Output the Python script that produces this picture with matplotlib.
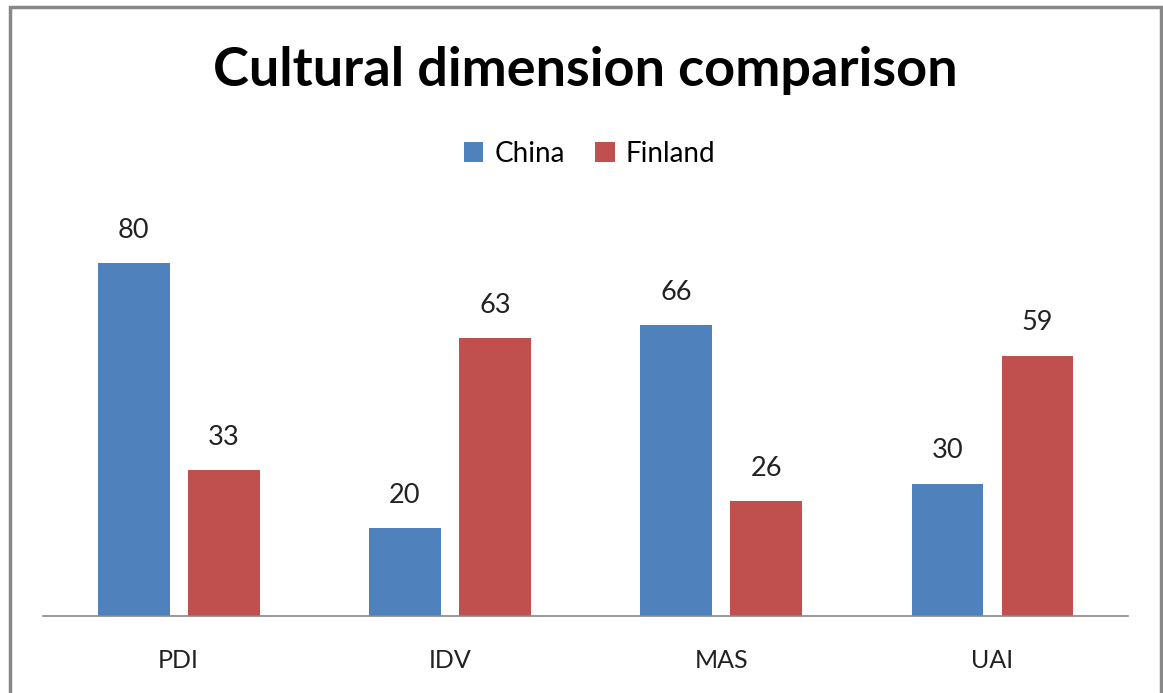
import numpy as np
import matplotlib
matplotlib.use('Agg')
import matplotlib.pyplot as plt
from matplotlib.patches import Rectangle

categories = ['PDI', 'IDV', 'MAS', 'UAI']
china = [80, 20, 66, 30]
finland = [33, 63, 26, 59]

BLUE = '#4f81bd'
RED = '#c0504d'
FONT = ['Lato', 'DejaVu Sans']

fig = plt.figure(figsize=(11.63, 6.93), dpi=100)
ax = fig.add_axes([0.037, 0.111, 0.933, 0.573])

x = np.arange(len(categories))
w = 0.265
off = 0.166
b1 = ax.bar(x - off, china, w, color=BLUE, label='China')
b2 = ax.bar(x + off, finland, w, color=RED, label='Finland')

for bars, vals in ((b1, china), (b2, finland)):
    for rect, v in zip(bars, vals):
        ax.text(rect.get_x() + rect.get_width() / 2, v + 4.6, str(v),
                ha='center', va='bottom', fontsize=19.5, family=FONT,
                color='#222222')

ax.set_xlim(-0.5, len(categories) - 0.5)
ax.set_ylim(0, 90)
ax.set_xticks(x)
ax.set_xticklabels(categories, fontsize=18, family=FONT, color='#222222')
ax.tick_params(axis='x', length=0, pad=24)
ax.set_yticks([])
for s in ('top', 'right', 'left'):
    ax.spines[s].set_visible(False)
ax.spines['bottom'].set_color('#888888')
ax.spines['bottom'].set_linewidth(1.2)

fig.text(0.503, 0.898, 'Cultural dimension comparison', ha='center',
         va='center', fontsize=39, fontweight='bold', family=FONT)
fig.legend(handles=[b1, b2], loc='center', bbox_to_anchor=(0.507, 0.778),
           ncol=2, frameon=False, prop={'family': FONT, 'size': 20},
           handlelength=0.7, handleheight=0.7, handletextpad=0.4,
           columnspacing=1.1)

# outer chart border
fig.patches.append(Rectangle((0.0085, -0.05), 0.9895, 1.04, transform=fig.transFigure,
                             fill=False, edgecolor='#888888', linewidth=2.5))

fig.savefig('out.png', dpi=100)
